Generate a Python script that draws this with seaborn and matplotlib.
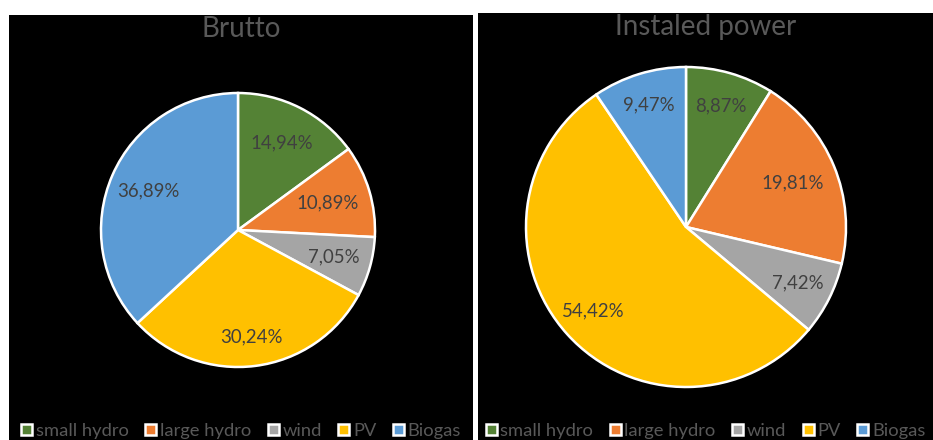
import matplotlib
matplotlib.use("Agg")
import matplotlib.pyplot as plt
import seaborn as sns
import numpy as np

categories = ["small hydro", "large hydro", "wind", "PV", "Biogas"]
brutto = [14.94, 10.89, 7.05, 30.24, 36.89]
installed = [8.87, 19.81, 7.42, 54.42, 9.47]
titles = ["Brutto", "Instaled power"]
colors = sns.color_palette(["#548235", "#ED7D31", "#A5A5A5", "#FFC000", "#5B9BD5"])

sns.set_theme(style="white")
plt.rcParams['font.family'] = ['Lato', 'DejaVu Sans']

W, H = 933, 440
fig = plt.figure(figsize=(W / 100, H / 100), dpi=100, facecolor='white')


def px(l, t, w, h):
    return [l / W, 1 - (t + h) / H, w / W, h / H]


panels = [
    dict(values=brutto, title=titles[0], bg=(9, 15, 464, 425), center=(238, 230), r=137,
         dist=[0.71, 0.68, 0.73, 0.79, 0.71], legend_x=(9, 473)),
    dict(values=installed, title=titles[1], bg=(478, 13, 455, 427), center=(686, 227), r=160,
         dist=[0.79, 0.72, 0.78, 0.78, 0.80], legend_x=(478, 933)),
]

text_col = '#404040'
dim_col = '#595959'

for p in panels:
    l, t, w, h = p['bg']
    bg = fig.add_axes(px(l, t, w, h))
    bg.set_facecolor('black')
    bg.set_xticks([]); bg.set_yticks([])
    for s in bg.spines.values():
        s.set_visible(False)
    bg.text(0.5, 1 - 14 / h, p['title'], transform=bg.transAxes, ha='center', va='center',
            color=dim_col, fontsize=20)

    cx, cy = p['center']
    r = p['r']
    ax = fig.add_axes(px(cx - r, cy - r, 2 * r, 2 * r))
    ax.set_facecolor('none')
    wedges, texts, autotexts = ax.pie(
        p['values'], colors=colors, startangle=90, counterclock=False,
        autopct=lambda v: '', radius=1.0,
        wedgeprops=dict(edgecolor='white', linewidth=1.8))
    for wdg, at, d, v in zip(wedges, autotexts, p['dist'], p['values']):
        ang = np.deg2rad((wdg.theta1 + wdg.theta2) / 2)
        at.set_position((d * np.cos(ang), d * np.sin(ang)))
        at.set_text(f"{v:.2f}%".replace('.', ','))
        at.set_color(text_col)
        at.set_fontsize(13.4)
        at.set_ha('center'); at.set_va('center')
    ax.set_xlim(-1, 1); ax.set_ylim(-1, 1)
    ax.axis('off')

    lx0, lx1 = p['legend_x']
    leg = fig.legend(wedges, categories, loc='center',
                     bbox_to_anchor=((lx0 + lx1) / 2 / W, (H - 431) / H),
                     ncol=5, frameon=False, fontsize=13.2, labelcolor=dim_col,
                     handlelength=0.6, handleheight=0.6, handletextpad=0.2,
                     columnspacing=0.9, borderpad=0)

fig.savefig('out.png', dpi=100, facecolor='white')
